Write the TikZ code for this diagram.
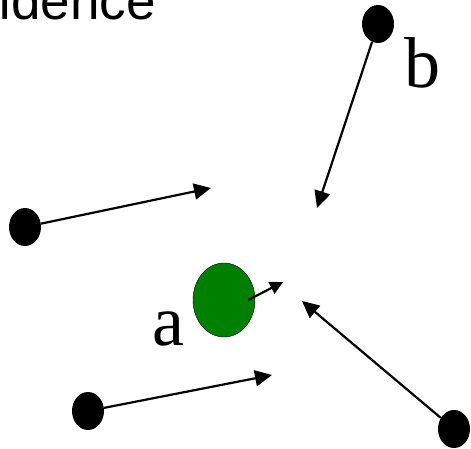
\documentclass[tikz,border=0pt]{standalone}
\usepackage{fontspec}
\setmainfont{Liberation Serif}
\newfontfamily\titlefont{Liberation Sans}
\usetikzlibrary{arrows.meta,shapes.geometric}
\tikzset{
  dot/.style={ellipse, fill=black, inner sep=0pt, minimum width=32pt, minimum height=38pt},
  vec/.style={line width=2.2pt, -{Triangle[length=17pt,width=16pt]}},
  lab/.style={font=\fontsize{72}{80}\selectfont, inner sep=0pt}
}
\begin{document}
\begin{tikzpicture}[x=1pt, y=-1pt]
            \useasboundingbox (0,0) rectangle (471,449);
            \clip (0,0) rectangle (471,449);
            % 标题
            \node[anchor=base east, inner sep=0pt, font=\titlefont\fontsize{53}{60}\selectfont] (title) at (156,20) {ndence};
            % 点 a
            \node[ellipse, draw=black, fill={rgb,255:red,0;green,128;blue,0}, inner sep=0pt, minimum width=62pt, minimum height=74pt] (ga) at (224,300) {};
            \node[lab, anchor=base] (la) at (168,345) {a};
            \coordinate (atip) at (283,282);
            \draw[line width=2.2pt, -{Triangle[length=13pt,width=13pt]}] ([xshift=-7pt]ga.east) -- (atip);
            % 周围的点
            \node[dot] (pb) at (378,24) {};
            \node[lab, anchor=base] (lb) at (422,88) {b};
            \node[dot] (pl) at (25,227) {};
            \node[dot] (pbl) at (88,411) {};
            \node[dot] (pbr) at (454,429) {};
            % 箭头
            \coordinate (tb) at (317,208);
            \coordinate (tl) at (211,188);
            \coordinate (tbl) at (272,375);
            \coordinate (tbr) at (302,301);
            \draw[vec] (pb) -- (tb);
            \draw[vec] (pl) -- (tl);
            \draw[vec] (pbl) -- (tbl);
            \draw[vec] (pbr) -- (tbr);
        \end{tikzpicture}
\end{document}
